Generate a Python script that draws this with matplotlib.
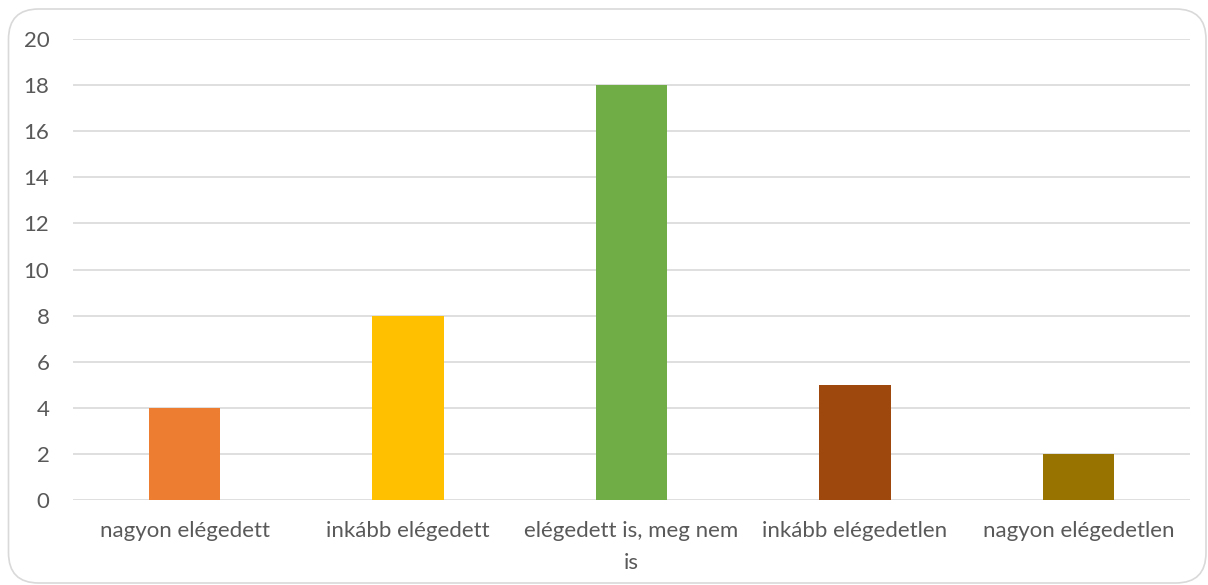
import matplotlib
matplotlib.use("Agg")
import matplotlib.pyplot as plt
from matplotlib.patches import FancyBboxPatch

categories = ["nagyon elégedett", "inkább elégedett", "elégedett is, meg nem\nis",
              "inkább elégedetlen", "nagyon elégedetlen"]
values = [4, 8, 18, 5, 2]
colors = ["#ED7D31", "#FFC000", "#70AD47", "#9E480E", "#997300"]
yticks = [0, 2, 4, 6, 8, 10, 12, 14, 16, 18, 20]

plt.rcParams['font.family'] = ['Lato', 'DejaVu Sans']

W, H = 1208, 585
fig = plt.figure(figsize=(W / 100, H / 100), dpi=100)
ax = fig.add_axes([73 / W, 1 - 500 / H, (1190 - 73) / W, (500 - 39) / H])

x = list(range(len(categories)))
ax.bar(x, values, width=0.32, color=colors, zorder=3)
ax.set_xlim(-0.5, len(categories) - 0.5)
ax.set_ylim(0, 20)
ax.set_yticks(yticks)
ax.set_xticks(x)
ax.set_xticklabels(categories, fontsize=16, color="#595959", linespacing=1.75)
ax.tick_params(axis='y', labelsize=16, labelcolor="#595959", length=0, pad=17)
ax.tick_params(axis='x', length=0, pad=15)
ax.grid(axis='y', color="#D9D9D9", linewidth=1.2, zorder=0)
for s in ax.spines.values():
    s.set_visible(False)

border = FancyBboxPatch((8.5 / W, 2 / H), (1206 - 8.5) / W, (576 - 2) / H,
                        boxstyle="round,pad=0,rounding_size=0.025",
                        transform=fig.transFigure, fill=False,
                        edgecolor="#D9D9D9", linewidth=1.2,
                        mutation_aspect=W / H)
fig.patches.append(border)

fig.savefig("out.png", dpi=100)
